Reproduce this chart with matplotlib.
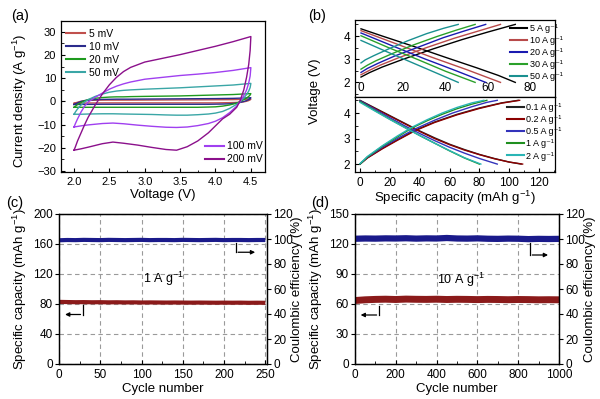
import matplotlib
matplotlib.use("Agg")
import matplotlib.pyplot as plt
from matplotlib.ticker import MultipleLocator

plt.rcParams["font.family"] = ["Liberation Sans", "DejaVu Sans"]
plt.rcParams["mathtext.default"] = "regular"
plt.rcParams["axes.linewidth"] = 0.9

# ---- (a) CV curves: forward / reverse sweeps ----
cv_fwd_v = [2.0, 2.02, 2.05, 2.1, 2.15, 2.2, 2.3, 2.4, 2.5, 2.6, 2.7, 2.8, 3.0, 3.25, 3.5, 3.75, 4.0, 4.25, 4.5]
cv_rev_v = [4.5, 4.49, 4.47, 4.44, 4.4, 4.35, 4.3, 4.2, 4.1, 4.0, 3.9, 3.75, 3.6, 3.45, 3.3, 3.1, 2.9, 2.7,
            2.55, 2.4, 2.2, 2.1, 2.0]
cv_labels = ["5 mV", "10 mV", "20 mV", "50 mV", "100 mV", "200 mV"]
cv_fwd_i = [
    [-0.8, -0.6, -0.3, 0.1, 0.3, 0.45, 0.55, 0.6, 0.6, 0.6, 0.6, 0.6, 0.62, 0.65, 0.68, 0.7, 0.75, 0.8, 1.0],
    [-1.3, -1.0, -0.6, 0.0, 0.4, 0.6, 0.8, 0.9, 0.95, 1.0, 1.0, 1.0, 1.05, 1.1, 1.15, 1.2, 1.25, 1.35, 1.6],
    [-2.5, -2.0, -1.3, -0.4, 0.3, 0.8, 1.4, 1.7, 1.9, 2.0, 2.0, 2.1, 2.2, 2.3, 2.4, 2.6, 2.8, 3.0, 3.4],
    [-5.5, -4.5, -3.2, -1.5, -0.2, 0.8, 2.2, 3.2, 4.0, 4.5, 4.8, 5.0, 5.3, 5.6, 5.9, 6.3, 6.7, 7.1, 7.8],
    [-11, -9.5, -7.5, -4.5, -2, -0.2, 1.8, 3.6, 5.3, 6.6, 7.6, 8.4, 9.6, 10.4, 11.2, 11.8, 12.5, 13.4, 14.6],
    [-21, -19.5, -17, -13.5, -10, -6.8, -1.5, 3.2, 7.2, 10.4, 12.9, 14.7, 17.0, 18.6, 20.2, 22.0, 23.8, 25.8, 28],
]
cv_rev_i = [
    [1.0, 0.7, 0.4, 0.1, -0.15, -0.3, -0.4, -0.5, -0.55, -0.6, -0.6, -0.6, -0.6, -0.6, -0.6, -0.6, -0.6, -0.6,
     -0.6, -0.62, -0.65, -0.7, -0.8],
    [1.6, 1.2, 0.8, 0.4, 0.0, -0.4, -0.7, -1.0, -1.1, -1.15, -1.2, -1.2, -1.2, -1.2, -1.2, -1.2, -1.2, -1.2,
     -1.2, -1.2, -1.25, -1.28, -1.3],
    [3.4, 2.8, 2.2, 1.5, 0.8, 0.0, -0.7, -1.5, -2.0, -2.3, -2.4, -2.5, -2.5, -2.5, -2.5, -2.5, -2.5, -2.5,
     -2.5, -2.5, -2.5, -2.5, -2.5],
    [7.8, 6.0, 4.5, 3.0, 1.5, 0.0, -1.2, -3.0, -4.3, -5.0, -5.4, -5.7, -5.9, -5.9, -5.8, -5.6, -5.5, -5.4,
     -5.3, -5.3, -5.4, -5.5, -5.5],
    [14.6, 11, 8, 5, 2.5, 0, -2, -4.8, -7, -8.5, -9.5, -10.4, -11, -11.2, -11.1, -10.7, -10.2, -9.6,
     -9.3, -9.5, -10.1, -10.5, -11],
    [28, 22, 16, 10.5, 5, 0.5, -2.5, -5.5, -7.5, -10.5, -13.5, -17, -19.5, -21, -20.7, -19.8, -18.8, -18,
     -17.5, -18.2, -19.7, -20.4, -21],
]
cv_colors = ["#c0504d", "#2b2b8c", "#1e9a1e", "#3aa6a6", "#a040f0", "#8b108b"]

# ---- (b) top: charge / discharge at high current densities ----
hi_labels = ["5 A g⁻¹", "10 A g⁻¹", "20 A g⁻¹", "30 A g⁻¹", "50 A g⁻¹"]
hi_colors = ["#000000", "#b84a4a", "#1a1ab0", "#2aa02a", "#1a9090"]
hi_chg_q = [[0, 4, 10, 20, 34, 48, 60, 73],
            [0, 4, 9, 18, 31, 44, 55, 66],
            [0, 3, 8, 16, 28, 39, 49, 59],
            [0, 3, 7, 15, 25, 36, 45, 54],
            [0, 2, 6, 13, 22, 31, 39, 46]]
hi_chg_v = [[2.23, 2.42, 2.66, 3.0, 3.44, 3.85, 4.17, 4.5],
            [2.33, 2.52, 2.74, 3.07, 3.5, 3.9, 4.2, 4.5],
            [2.43, 2.6, 2.82, 3.14, 3.55, 3.93, 4.22, 4.5],
            [2.57, 2.74, 2.93, 3.25, 3.62, 3.98, 4.25, 4.5],
            [2.84, 2.97, 3.15, 3.44, 3.79, 4.1, 4.33, 4.5]]
hi_dis_q = [[0, 10, 25, 40, 55, 65, 73],
            [0, 15, 33, 50, 66],
            [0, 15, 30, 45, 59],
            [0, 13, 27, 40, 54],
            [0, 12, 24, 35, 46]]
hi_dis_v = [[4.31, 4.0, 3.55, 3.08, 2.62, 2.3, 2.0],
            [4.23, 3.72, 3.1, 2.55, 2.0],
            [4.13, 3.57, 3.02, 2.5, 2.0],
            [4.01, 3.5, 2.98, 2.48, 2.0],
            [3.81, 3.33, 2.86, 2.43, 2.0]]

# ---- (b) bottom: charge / discharge at low current densities ----
lo_labels = ["0.1 A g⁻¹", "0.2 A g⁻¹", "0.5 A g⁻¹", "1 A g⁻¹", "2 A g⁻¹"]
lo_colors = ["#222222", "#8b0000", "#3333bb", "#1f8f1f", "#2ab5b5"]
lo_chg_q = [[0, 5, 15, 25, 37, 50, 65, 80, 95, 106],
            [0, 5, 15, 25, 37, 50, 65, 80, 95, 107],
            [0, 5, 15, 25, 37, 50, 62, 75, 85, 92],
            [0, 5, 15, 25, 35, 45, 55, 65, 75, 85],
            [0, 5, 15, 25, 35, 45, 55, 65, 75, 83]]
lo_chg_v = [[2.0, 2.25, 2.62, 2.95, 3.33, 3.65, 3.95, 4.2, 4.4, 4.5],
            [2.0, 2.24, 2.6, 2.93, 3.31, 3.63, 3.93, 4.18, 4.39, 4.5],
            [2.0, 2.27, 2.66, 3.0, 3.38, 3.72, 4.0, 4.25, 4.42, 4.5],
            [2.0, 2.28, 2.7, 3.06, 3.42, 3.7, 3.95, 4.17, 4.35, 4.5],
            [2.02, 2.3, 2.72, 3.1, 3.45, 3.74, 4.0, 4.22, 4.4, 4.5]]
lo_dis_q = [[0, 10, 20, 30, 40, 50, 60, 70, 80, 90, 100, 108],
            [0, 10, 20, 30, 40, 50, 60, 70, 80, 90, 100, 109],
            [0, 10, 20, 30, 40, 50, 60, 70, 80, 92],
            [0, 10, 20, 30, 40, 50, 60, 70, 80],
            [0, 10, 20, 30, 40, 50, 60, 70, 81]]
lo_dis_v = [[4.5, 4.2, 3.9, 3.6, 3.3, 3.03, 2.78, 2.57, 2.38, 2.22, 2.08, 2.0],
            [4.48, 4.18, 3.88, 3.58, 3.28, 3.0, 2.76, 2.55, 2.37, 2.21, 2.08, 2.0],
            [4.48, 4.15, 3.82, 3.5, 3.2, 2.92, 2.66, 2.43, 2.22, 2.0],
            [4.45, 4.1, 3.76, 3.44, 3.12, 2.82, 2.52, 2.24, 2.0],
            [4.42, 4.08, 3.75, 3.43, 3.12, 2.82, 2.53, 2.25, 2.0]]

# ---- (c) cycling at 1 A/g ----
c_cycles = [1, 10, 20, 30, 40, 50, 60, 70, 80, 90, 100, 110, 120, 130, 140, 150, 160, 170, 180, 190, 200,
            210, 220, 230, 240, 250]
c_capacity = [82.8, 82.6, 82.4, 82.5, 82.3, 82.4, 82.2, 82.3, 82.1, 82.2, 82.0, 82.1, 82.0, 81.9, 82.0, 81.9,
              81.8, 81.9, 81.8, 81.7, 81.8, 81.7, 81.8, 81.6, 81.7, 81.6]
c_ce = [99.0, 99.2, 99.1, 99.3, 99.2, 99.1, 99.3, 99.2, 99.1, 99.2, 99.3, 99.1, 99.2, 99.2, 99.1, 99.3, 99.2,
        99.1, 99.2, 99.3, 99.1, 99.2, 99.2, 99.1, 99.2, 99.2]

# ---- (d) cycling at 10 A/g ----
d_cycles = [1, 50, 100, 150, 200, 250, 300, 350, 400, 450, 500, 550, 600, 650, 700, 750, 800, 850, 900, 950, 1000]
d_capacity = [63.5, 64.2, 64.6, 64.8, 64.5, 64.9, 64.7, 64.6, 64.8, 64.5, 64.7, 64.6, 64.4, 64.6, 64.5, 64.3,
              64.5, 64.4, 64.2, 64.3, 64.2]
d_ce = [100.2, 100.4, 100.3, 100.5, 100.4, 100.6, 100.3, 100.5, 100.4, 100.8, 100.4, 100.3, 100.5, 100.2, 100.1,
        100.3, 100.2, 99.9, 100.1, 100.0, 100.1]

cap_color = "#8b1a1a"
ce_color = "#1a1a8b"


def box(l, t, r, b):
    return [l / 600, 1 - b / 399, (r - l) / 600, (b - t) / 399]


fig = plt.figure(figsize=(6, 3.99), dpi=100)

# ================= (a) =================
ax_a = fig.add_axes(box(61, 21, 265, 172))
lines_a = []
for lab, fi, ri, col in zip(cv_labels, cv_fwd_i, cv_rev_i, cv_colors):
    ln, = ax_a.plot(cv_fwd_v + cv_rev_v, fi + ri, color=col, lw=1.0, label=lab)
    lines_a.append(ln)
ax_a.set_xlim(1.816, 4.7)
ax_a.set_ylim(-30.4, 34.7)
ax_a.set_xticks([2.0, 2.5, 3.0, 3.5, 4.0, 4.5])
ax_a.set_yticks([-30, -20, -10, 0, 10, 20, 30])
ax_a.xaxis.set_minor_locator(MultipleLocator(0.25))
ax_a.yaxis.set_minor_locator(MultipleLocator(5))
ax_a.tick_params(which="both", direction="in", labelsize=8)
ax_a.tick_params(which="major", length=3)
ax_a.tick_params(which="minor", length=1.8)
ax_a.set_xlabel("Voltage (V)", fontsize=9.5)
ax_a.set_ylabel("Current density (A g$^{-1}$)", fontsize=9.5)
ax_a.yaxis.set_label_coords(-0.155, 0.47)
ax_a.xaxis.set_label_coords(0.5, -0.113)
leg1 = ax_a.legend(handles=lines_a[:4], loc="upper left", bbox_to_anchor=(0.025, 0.95), frameon=False,
                   fontsize=7.5, handlelength=1.8, handletextpad=0.4, labelspacing=0.3, borderpad=0,
                   borderaxespad=0)
for h in leg1.legend_handles:
    h.set_linewidth(1.5)
ax_a.add_artist(leg1)
leg2 = ax_a.legend(handles=lines_a[4:], loc="lower left", bbox_to_anchor=(0.706, 0.05), frameon=False,
                   fontsize=7.5, handlelength=1.8, handletextpad=0.3, labelspacing=0.3, borderpad=0,
                   borderaxespad=0)
for h in leg2.legend_handles:
    h.set_linewidth(1.5)

# ================= (b) =================
ax_bt = fig.add_axes(box(355, 20, 555, 97))
ax_bb = fig.add_axes(box(355, 97, 555, 172))

lines_bt = []
for lab, col, cq, cv, dq, dv in zip(hi_labels, hi_colors, hi_chg_q, hi_chg_v, hi_dis_q, hi_dis_v):
    ln, = ax_bt.plot(cq, cv, color=col, lw=1.0, label=lab)
    ax_bt.plot(dq, dv, color=col, lw=1.0)
    lines_bt.append(ln)
ax_bt.set_xlim(-2.84, 91.8)
ax_bt.set_ylim(1.37, 4.69)
ax_bt.set_xticks([0, 20, 40, 60, 80])
ax_bt.set_yticks([2, 3, 4])
ax_bt.yaxis.set_minor_locator(MultipleLocator(0.5))
ax_bt.tick_params(which="both", direction="in", labelsize=8.5)
ax_bt.tick_params(axis="x", pad=-10.5, length=0)
ax_bt.tick_params(which="major", axis="y", length=3)
ax_bt.tick_params(which="minor", length=1.8)
leg_bt = ax_bt.legend(handles=lines_bt, loc="upper left", bbox_to_anchor=(0.775, 0.95), frameon=False,
                      fontsize=6.5, handlelength=1.9, handletextpad=0.3, labelspacing=0.35, borderpad=0,
                      borderaxespad=0)
for h in leg_bt.legend_handles:
    h.set_linewidth(1.5)

lines_bb = []
for lab, col, cq, cv, dq, dv in zip(lo_labels, lo_colors, lo_chg_q, lo_chg_v, lo_dis_q, lo_dis_v):
    ln, = ax_bb.plot(cq, cv, color=col, lw=1.0, label=lab)
    ax_bb.plot(dq, dv, color=col, lw=1.0)
    lines_bb.append(ln)
ax_bb.set_xlim(-3.35, 130.7)
ax_bb.set_ylim(1.69, 4.63)
ax_bb.set_xticks([0, 20, 40, 60, 80, 100, 120])
ax_bb.set_yticks([2, 3, 4])
ax_bb.yaxis.set_minor_locator(MultipleLocator(0.5))
ax_bb.xaxis.set_minor_locator(MultipleLocator(10))
ax_bb.tick_params(which="both", direction="in", labelsize=8.5)
ax_bb.tick_params(which="major", length=3)
ax_bb.tick_params(which="minor", length=1.8)
ax_bb.set_xlabel("Specific capacity (mAh g$^{-1}$)", fontsize=9.5)
ax_bb.xaxis.set_label_coords(0.5, -0.227)
leg_bb = ax_bb.legend(handles=lines_bb, loc="upper left", bbox_to_anchor=(0.76, 0.92), frameon=False,
                      fontsize=6.5, handlelength=1.9, handletextpad=0.2, labelspacing=0.35, borderpad=0,
                      borderaxespad=0)
for h in leg_bb.legend_handles:
    h.set_linewidth(1.5)
fig.text(315 / 600, 1 - 91 / 399, "Voltage (V)", rotation=90, ha="center", va="center", fontsize=9.5)


# ================= (c) and (d) =================
def cycling_panel(rect, cycles, cap, ce, xmax, xstep, xminor, ymax, ystep, cap_lw, ce_lw):
    ax = fig.add_axes(rect)
    ax2 = ax.twinx()
    ax.plot(cycles, cap, color=cap_color, lw=cap_lw, solid_capstyle="butt")
    ax2.plot(cycles, ce, color=ce_color, lw=ce_lw, solid_capstyle="butt")
    ax.set_xlim(0, xmax)
    ax.set_ylim(0, ymax)
    ax2.set_ylim(0, 120)
    ax.set_xticks(range(0, int(xmax) + 1, xstep))
    ax.xaxis.set_minor_locator(MultipleLocator(xminor))
    ax.set_yticks(range(0, ymax + 1, ystep))
    ax2.set_yticks(range(0, 121, 20))
    ax.grid(True, which="major", ls=(0, (4, 3)), color="#9a9a9a", lw=0.8)
    ax.set_axisbelow(True)
    ax.tick_params(axis="x", which="both", direction="in", labelsize=8.5)
    ax.tick_params(axis="x", which="major", length=3)
    ax.tick_params(axis="x", which="minor", length=2)
    ax.tick_params(axis="y", direction="out", length=3, labelsize=8.5, pad=1.5)
    ax2.tick_params(axis="y", direction="out", length=3, labelsize=8.5, pad=1.5)
    ax.set_xlabel("Cycle number", fontsize=9.5)
    ax.xaxis.set_label_coords(0.5, -0.125)
    ax.set_ylabel("Specific capacity (mAh g$^{-1}$)", fontsize=9.5)
    ax2.set_ylabel("Coulombic efficiency (%)", fontsize=9.5)
    return ax, ax2


ax_c, ax_c2 = cycling_panel(box(59, 214, 267, 364), c_cycles, c_capacity, c_ce, 252, 50, 25, 200, 40, 3.0, 3.0)
ax_c.set_xticks([0, 50, 100, 150, 200, 250])
ax_c.yaxis.set_label_coords(-0.145, 0.5)
ax_c2.yaxis.set_label_coords(1.115, 0.5)
ax_c.text(127, 114, "1 A g$^{-1}$", ha="center", va="center", fontsize=9)
ax_c.plot([29, 29], [79, 66], color="black", lw=0.9)
ax_c.annotate("", xy=(4, 66), xytext=(29.4, 66),
              arrowprops=dict(arrowstyle="-|>", color="black", lw=0.9, mutation_scale=6))
ax_c.plot([214, 214], [162, 149], color="black", lw=0.9)
ax_c.annotate("", xy=(241, 149), xytext=(213.6, 149),
              arrowprops=dict(arrowstyle="-|>", color="black", lw=0.9, mutation_scale=6))

ax_d, ax_d2 = cycling_panel(box(355, 214, 559, 364), d_cycles, d_capacity, d_ce, 1000, 200, 100, 150, 30,
                            5.0, 4.5)
ax_d.yaxis.set_label_coords(-0.147, 0.5)
ax_d2.yaxis.set_label_coords(1.123, 0.5)
ax_d.text(517, 84, "10 A g$^{-1}$", ha="center", va="center", fontsize=9)
ax_d.plot([118, 118], [58, 49], color="black", lw=0.9)
ax_d.annotate("", xy=(14, 49), xytext=(119.5, 49),
              arrowprops=dict(arrowstyle="-|>", color="black", lw=0.9, mutation_scale=6))
ax_d.plot([857, 857], [121, 109], color="black", lw=0.9)
ax_d.annotate("", xy=(960, 109), xytext=(855.5, 109),
              arrowprops=dict(arrowstyle="-|>", color="black", lw=0.9, mutation_scale=6))

# panel letters
for lab, x, y in [("(a)", 20, 16), ("(b)", 317, 16), ("(c)", 15, 203), ("(d)", 320, 203)]:
    fig.text(x / 600, 1 - y / 399, lab, ha="center", va="center", fontsize=10.5)

fig.savefig("out.png", dpi=100)
